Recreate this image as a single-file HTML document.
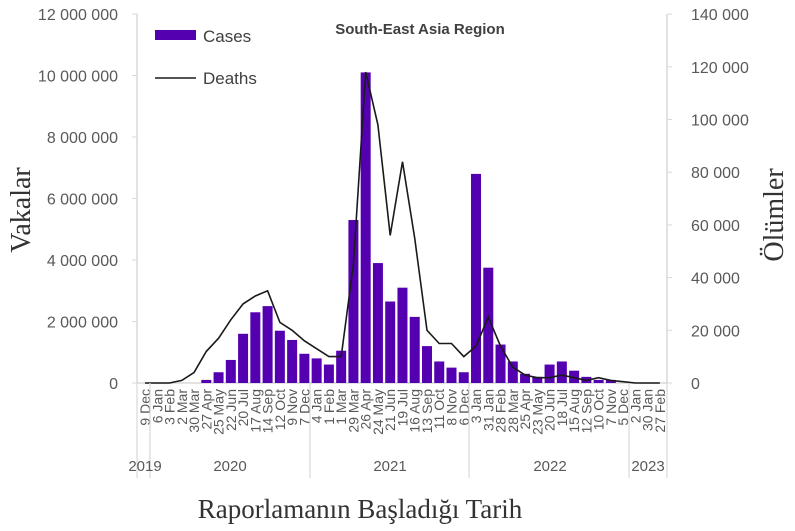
<!DOCTYPE html>
<html><head><meta charset="utf-8"><style>
html,body{margin:0;padding:0;background:#fff;}
svg{display:block;}
</style></head><body>
<svg id="c" width="795" height="531" xmlns="http://www.w3.org/2000/svg" font-family="Liberation Sans, sans-serif">
</svg>
<script>
const s=document.getElementById('c');
let h='';
const y0=383, pxM=30.75, pxK=52.7/20;
const X=i=>145+12.26*i;
h+='<line x1="137" y1="14" x2="137" y2="383" stroke="#d9d9d9" stroke-width="1.5"/>';
h+='<line x1="667" y1="14" x2="667" y2="383" stroke="#d9d9d9" stroke-width="1.5"/>';
h+='<line x1="137" y1="383" x2="667" y2="383" stroke="#d9d9d9" stroke-width="1.5"/>';
for(let k=0;k<=6;k++){const y=y0-k*2*pxM;
 h+=`<line x1="132" y1="${y}" x2="137" y2="${y}" stroke="#d9d9d9"/>`;
 const lab=k==0?'0':(2*k)+' 000 000';
 h+=`<text x="118" y="${y+6}" text-anchor="end" font-size="16" fill="#595959">${lab}</text>`;}
for(let k=0;k<=7;k++){const y=y0-k*20*pxK;
 h+=`<line x1="667" y1="${y}" x2="672" y2="${y}" stroke="#d9d9d9"/>`;
 const lab=k==0?'0':(20*k)+' 000';
 h+=`<text x="691" y="${y+6}" font-size="16" fill="#595959">${lab}</text>`;}
const cases=[0,0,0,0,0,0.1,0.35,0.75,1.6,2.3,2.5,1.7,1.4,0.95,0.8,0.6,1.05,5.3,10.1,3.9,2.65,3.1,2.15,1.2,0.7,0.5,0.35,6.8,3.75,1.25,0.7,0.3,0.2,0.6,0.7,0.4,0.2,0.1,0.1,0,0,0,0];
cases.forEach((v,i)=>{if(v>0){const hh=v*pxM;h+=`<rect x="${X(i)-5}" y="${y0-hh}" width="10" height="${hh}" fill="#5500b0"/>`;}});
const d=[0,0,0,1,4,12,17,24,30,33,35,23,20,16,13,10,10,45,118,98,56,84,55,20,15,15,10,14,25,14,6,3,2,2,3,2,1,2,1,0.5,0,0,0];
h+='<polyline fill="none" stroke="#1a1a1a" stroke-width="1.6" points="'+d.map((v,i)=>X(i).toFixed(1)+','+(y0-v*pxK).toFixed(1)).join(' ')+'"/>';
const labs=['9 Dec','6 Jan','3 Feb','2 Mar','30 Mar','27 Apr','25 May','22 Jun','20 Jul','17 Aug','14 Sep','12 Oct','9 Nov','7 Dec','4 Jan','1 Feb','1 Mar','29 Mar','26 Apr','24 May','21 Jun','19 Jul','16 Aug','13 Sep','11 Oct','8 Nov','6 Dec','3 Jan','31 Jan','28 Feb','28 Mar','25 Apr','23 May','20 Jun','18 Jul','15 Aug','12 Sep','10 Oct','7 Nov','5 Dec','2 Jan','30 Jan','27 Feb'];
labs.forEach((t,i)=>{h+=`<text transform="translate(${X(i)+5},389) rotate(-90)" text-anchor="end" font-size="14" fill="#595959">${t}</text>`;});
[137,150,310,469,629,667].forEach(x=>{h+=`<line x1="${x}" y1="383" x2="${x}" y2="478" stroke="#d9d9d9" stroke-width="1.2"/>`;});
[[145,'2019'],[230,'2020'],[390,'2021'],[550,'2022'],[648,'2023']].forEach(([x,t])=>{h+=`<text x="${x}" y="471" text-anchor="middle" font-size="15" fill="#595959">${t}</text>`;});
h+='<rect x="155" y="30" width="41" height="10" fill="#5500b0"/>';
h+='<text x="203" y="42" font-size="17" fill="#404040">Cases</text>';
h+='<line x1="155" y1="78" x2="196" y2="78" stroke="#1a1a1a" stroke-width="1.6"/>';
h+='<text x="203" y="84" font-size="17" fill="#404040">Deaths</text>';
h+='<text x="420" y="34" text-anchor="middle" font-size="15" font-weight="bold" fill="#404040">South-East Asia Region</text>';
h+='<text transform="translate(30,210) rotate(-90)" text-anchor="middle" font-family="Liberation Serif, serif" font-size="28" fill="#333">Vakalar</text>';
h+='<text transform="translate(783,215) rotate(-90)" text-anchor="middle" font-family="Liberation Serif, serif" font-size="28" fill="#333">Ölümler</text>';
h+='<text x="360" y="518" text-anchor="middle" font-family="Liberation Serif, serif" font-size="27" fill="#333">Raporlamanın Başladığı Tarih</text>';
s.innerHTML=h;
</script>
</body></html>
